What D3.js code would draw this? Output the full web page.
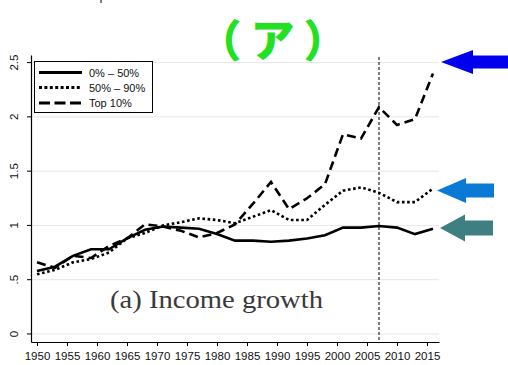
<!DOCTYPE html>
<html><head><meta charset="utf-8">
<script src="https://cdn.jsdelivr.net/npm/d3@7"></script>
<style>body{margin:0;background:#fff;}svg{display:block;}</style>
</head><body>
<script>
const years = [1950,1953,1956,1959,1962,1965,1968,1971,1974,1977,1980,1983,1986,1989,1992,1995,1998,2001,2004,2007,2010,2013,2016];
const bottom50 = [0.58,0.62,0.72,0.78,0.78,0.88,0.96,0.99,0.98,0.97,0.92,0.86,0.86,0.85,0.86,0.88,0.91,0.98,0.98,0.995,0.98,0.92,0.97];
const middle40 = [0.55,0.59,0.66,0.69,0.75,0.88,0.93,1.00,1.03,1.065,1.05,1.02,1.08,1.14,1.05,1.05,1.19,1.32,1.35,1.30,1.215,1.215,1.34];
const top10 = [0.66,0.61,0.72,0.70,0.81,0.88,1.01,0.99,0.95,0.89,0.93,1.01,1.20,1.40,1.15,1.25,1.38,1.84,1.80,2.09,1.925,1.98,2.40];
const seriesNames = ["0% \u2013 50%","50% \u2013 90%","Top 10%"];
const xTicks = d3.range(1950, 2016, 5);
const yTicks = [0,0.5,1,1.5,2,2.5];
const yTickLabels = ["0",".5","1","1.5","2","2.5"];
const markerYear = 2007;

const W=508,H=365;
const svg=d3.select("body").append("svg").attr("width",W).attr("height",H);
const x=d3.scaleLinear().domain([1949,2017]).range([31,439]);
const y=d3.scaleLinear().domain([-0.074,2.57]).range([342,55]);

// gridlines
svg.append("g").selectAll("line").data(yTicks).join("line")
  .attr("x1",31).attr("x2",439).attr("y1",d=>y(d)).attr("y2",d=>y(d))
  .attr("stroke","#e6e6e6").attr("stroke-width",1);

// axes
const xAxis=svg.append("g").attr("transform","translate(0,342)")
  .call(d3.axisBottom(x).tickValues(xTicks).tickFormat(d3.format("d")).tickSize(4).tickSizeOuter(0));
xAxis.select(".domain").attr("stroke","#000").attr("stroke-width",1.2);
xAxis.selectAll("text").attr("font-family","Liberation Sans, Arial, sans-serif").attr("font-size",11.5).attr("fill","#111").attr("dy","0.95em");
const yAxis=svg.append("g").attr("transform","translate(31,0)")
  .call(d3.axisLeft(y).tickValues(yTicks).tickFormat((d,i)=>yTickLabels[i]).tickSize(4).tickSizeOuter(0));
yAxis.select(".domain").attr("stroke","#000").attr("stroke-width",1.2);
yAxis.selectAll("text").attr("font-family","Liberation Sans, Arial, sans-serif").attr("font-size",11.5).attr("fill","#111")
  .attr("text-anchor","middle").attr("x",0).attr("dy",0)
  .attr("transform",d=>`translate(-13,${y(d)}) rotate(-90)`).attr("y",0);
yAxis.selectAll(".tick").attr("transform","translate(0,0)");
yAxis.selectAll(".tick line").attr("y1",d=>y(d)).attr("y2",d=>y(d));

// vertical marker
svg.append("line").attr("x1",x(markerYear)).attr("x2",x(markerYear)).attr("y1",57).attr("y2",342)
  .attr("stroke","#000").attr("stroke-width",1).attr("stroke-dasharray","3,2");

// lines
const styles=[{dash:null},{dash:"2.6,2.6"},{dash:"9,5"}];
const data=[bottom50,middle40,top10];
const line=d3.line().x((d,i)=>x(years[i])).y(d=>y(d));
data.forEach((s,k)=>{
  svg.append("path").datum(s).attr("d",line).attr("fill","none").attr("stroke","#000")
    .attr("stroke-width",2.6).attr("stroke-dasharray",styles[k].dash);
});

// legend
const lg=svg.append("g");
lg.append("rect").attr("x",34.5).attr("y",61.5).attr("width",118).attr("height",51).attr("fill","#fff").attr("stroke","#000").attr("stroke-width",1);
const rowsY=[72.5,87.5,103];
seriesNames.forEach((n,k)=>{
  lg.append("line").attr("x1",39).attr("x2",82).attr("y1",rowsY[k]).attr("y2",rowsY[k])
    .attr("stroke","#000").attr("stroke-width",3.2).attr("stroke-dasharray",k==1?"3,2.4":k==2?"11,4.5":null);
  lg.append("text").attr("x",89).attr("y",rowsY[k]+4).text(n)
    .attr("font-family","Liberation Sans, Arial, sans-serif").attr("font-size",11).attr("fill","#111");
});

// panel label
svg.append("text").attr("x",110).attr("y",308).text("(a) Income growth")
  .attr("font-family","Liberation Serif, Times New Roman, serif").attr("font-size",26).attr("fill","#3a3a3a")
  .attr("textLength",213).attr("lengthAdjust","spacingAndGlyphs");

// title
svg.append("text").attr("x",277).attr("y",57).attr("text-anchor","middle").text("（ア）")
  .attr("font-family","Noto Sans CJK JP, sans-serif").attr("font-weight","900").attr("font-size",44)
  .attr("letter-spacing",9).attr("fill","#22e022");

// arrows
function arrow(tipX,tipY,headEnd,headH,shaftEnd,shaftH,color){
  const p=[[tipX,tipY],[headEnd,tipY-headH/2],[headEnd,tipY-shaftH/2],[shaftEnd,tipY-shaftH/2],[shaftEnd,tipY+shaftH/2],[headEnd,tipY+shaftH/2],[headEnd,tipY+headH/2]];
  svg.append("path").attr("d","M"+p.join("L")+"Z").attr("fill",color);
}
arrow(441,62,473,24,510,13,"#0000ee");
arrow(437,190.5,466,25,494,14,"#0a7ad6");
arrow(440,228,465,27,493,15,"#3e8082");

// top remnant tick
svg.append("line").attr("x1",101).attr("x2",101).attr("y1",0).attr("y2",3).attr("stroke","#000");
</script>
</body></html>
